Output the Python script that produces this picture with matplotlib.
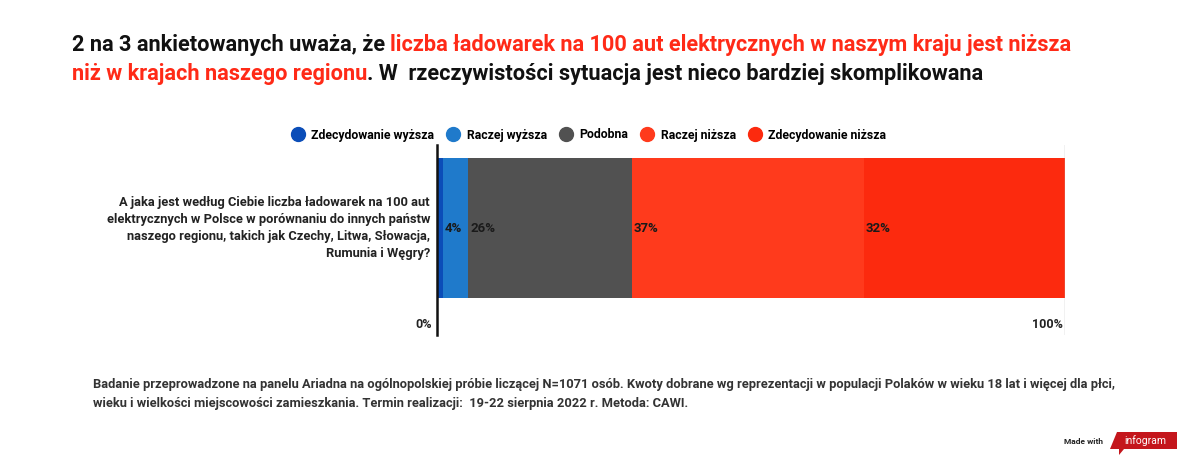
import matplotlib
matplotlib.use("Agg")
import matplotlib.pyplot as plt
from matplotlib.patches import Polygon

plt.rcParams["font.family"] = ["Roboto", "DejaVu Sans"]

categories = ["Zdecydowanie wyższa", "Raczej wyższa", "Podobna",
              "Raczej niższa", "Zdecydowanie niższa"]
values = [1, 4, 26, 37, 32]
labels = ["", "4%", "26%", "37%", "32%"]
colors = ["#0b4db8", "#1f7acb", "#515151", "#ff3a1c", "#fc2a0e"]
question = ("A jaka jest według Ciebie liczba ładowarek na 100 aut\n"
            "elektrycznych w Polsce w porównaniu do innych państw\n"
            "naszego regionu, takich jak Czechy, Litwa, Słowacja,\n"
            "Rumunia i Węgry?")
title_line1 = [("2 na 3 ankietowanych uważa, że ", "#111111"),
               ("liczba ładowarek na 100 aut elektrycznych w naszym kraju jest niższa", "#ff2a17")]
title_line2 = [("niż w krajach naszego regionu", "#ff2a17"),
               (". W  rzeczywistości sytuacja jest nieco bardziej skomplikowana", "#111111")]
footer = ("Badanie przeprowadzone na panelu Ariadna na ogólnopolskiej próbie liczącej N=1071 osób. "
          "Kwoty dobrane wg reprezentacji w populacji Polaków w wieku 18 lat i więcej dla płci,\n"
          "wieku i wielkości miejscowości zamieszkania. Termin realizacji:  19-22 sierpnia 2022 r. Metoda: CAWI.")

W, H = 1200, 466
fig = plt.figure(figsize=(12, 4.66), dpi=100)


def fx(px):
    return px / W


def fy(py):
    return 1 - py / H


def draw_pieces(pieces, x, y, **kw):
    """Writes coloured text pieces one after another on one line."""
    renderer = fig.canvas.get_renderer()
    for txt, col in pieces:
        t = fig.text(x, y, txt, color=col, **kw)
        bb = t.get_window_extent(renderer=renderer)
        x += bb.width / W


# title
draw_pieces(title_line1, fx(72), fy(45), fontsize=15.65, fontweight="bold", va="center")
draw_pieces(title_line2, fx(72), fy(74), fontsize=15.65, fontweight="bold", va="center")

# legend
handles = [plt.Line2D([], [], marker="o", ls="", markersize=10, color=c) for c in colors]
fig.legend(handles, categories, loc="center", bbox_to_anchor=(fx(586), fy(135)),
           ncol=5, frameon=False, handletextpad=0.1, columnspacing=0.55,
           prop={"size": 8.8, "weight": "bold"})

# axes: 437..1065 px horizontally, 145..335 px vertically
ax = fig.add_axes([fx(437), fy(335), fx(1065) - fx(437), fy(145) - fy(335)])
left = 0
for v, c, lab in zip(values, colors, labels):
    ax.barh(0, v, left=left, height=1, color=c, linewidth=0)
    if lab:
        ax.text(left + 0.3, 0, lab, va="center", ha="left", fontsize=9.5,
                fontweight="bold", color="#1a1a1a")
    left += v

ax.set_xlim(0, 100)
ax.set_ylim(-0.764, 0.593)
ax.axvline(100, color="#bbbbbb", lw=1)
for s in ["top", "right", "bottom"]:
    ax.spines[s].set_visible(False)
ax.spines["left"].set_linewidth(1.8)
ax.spines["left"].set_color("#111111")
ax.set_xticks([])
ax.set_yticks([])
ax.text(-0.8, -0.69, "0%", ha="right", va="center", fontsize=9, fontweight="bold", color="#222222")
ax.text(99.6, -0.69, "100%", ha="right", va="center", fontsize=9, fontweight="bold", color="#222222")
ax.text(-1.1, 0, question, ha="right", va="center", fontsize=9.3, fontweight="bold",
        color="#222222", linespacing=1.4)

# footer
fig.text(fx(93), fy(394), footer, ha="left", va="center", fontsize=9.25,
         fontweight="bold", color="#333333", linespacing=1.6)

# infogram badge
fig.text(fx(1103), fy(441), "Made with", ha="right", va="center", fontsize=6,
         fontweight="bold", color="#222222")
badge = Polygon([(fx(1117), fy(432)), (fx(1177), fy(432)), (fx(1177), fy(449)),
                 (fx(1124), fy(449)), (fx(1119), fy(455)), (fx(1119), fy(449)),
                 (fx(1110), fy(449))], closed=True, transform=fig.transFigure,
                facecolor="#c4161c", edgecolor="none")
fig.patches.append(badge)
fig.text(fx(1145), fy(441), "infogram", ha="center", va="center", fontsize=7.5,
         color="white")

fig.savefig("out.png", dpi=100)
